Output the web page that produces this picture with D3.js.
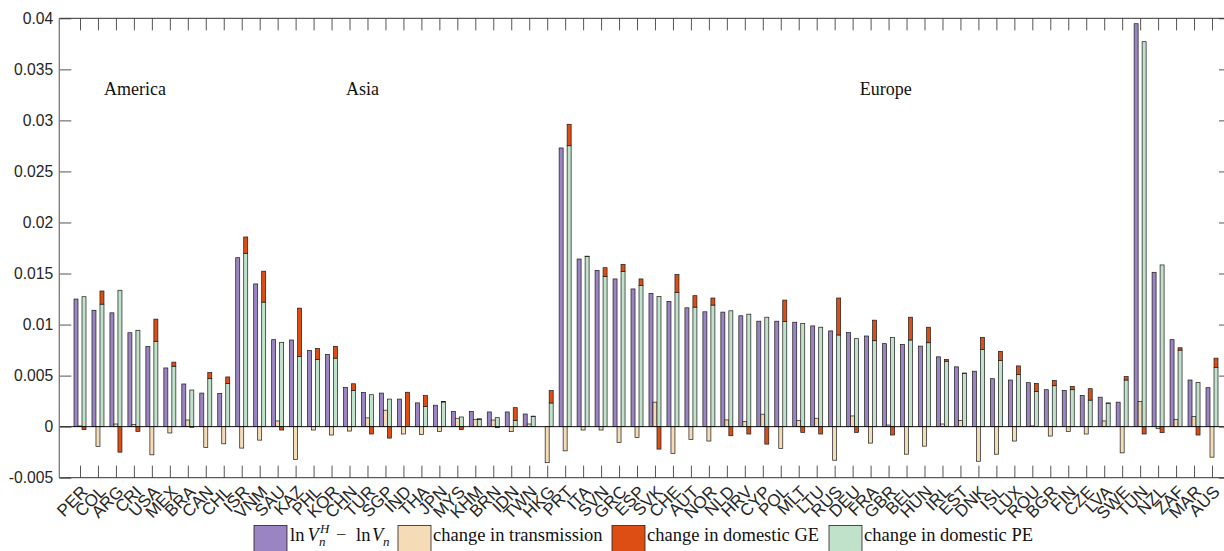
<!DOCTYPE html>
<html>
<head>
<meta charset="utf-8">
<script src="https://cdn.jsdelivr.net/npm/d3@7"></script>
<style>
  html, body { margin: 0; padding: 0; background: #fff; }
  svg { display: block; }
</style>
</head>
<body>
<svg id="chart" width="1224" height="551"></svg>
<script>
// Country codes along the horizontal axis
const countries = ["PER","COL","ARG","CRI","USA","MEX","BRA","CAN","CHL","ISR","VNM","SAU","KAZ","PHL","KOR","CHN","TUR","SGP","IND","THA","JPN","MYS","KHM","BRN","IDN","TWN","HKG","PRT","ITA","SVN","GRC","ESP","SVK","CHE","AUT","NOR","NLD","HRV","CYP","POL","MLT","LTU","RUS","DEU","FRA","GBR","BEL","HUN","IRL","EST","DNK","ISL","LUX","ROU","BGR","FIN","CZE","LVA","SWE","TUN","NZL","ZAF","MAR","AUS"];

// ln V^H_n - ln V_n
const totalChange = [0.0125,0.0114,0.01115,0.0092,0.00785,0.00575,0.00418,0.00329,0.00326,0.01655,0.01398,0.00852,0.00849,0.00747,0.00707,0.00385,0.00336,0.00329,0.0027,0.00233,0.0021,0.0015,0.0015,0.00144,0.00144,0.00124,0.0,0.0273,0.01642,0.0153,0.01447,0.01349,0.01306,0.01227,0.01164,0.01125,0.01122,0.01086,0.01033,0.01033,0.01023,0.00987,0.00938,0.00921,0.00888,0.00813,0.00806,0.00789,0.00684,0.00586,0.00543,0.0047,0.00457,0.00431,0.00362,0.00355,0.00306,0.00289,0.0024,0.03947,0.01512,0.00852,0.00457,0.00382];

// change in transmission
const transmission = [0.00007,-0.00194,0.00026,0.0002,-0.00276,-0.00062,0.00065,-0.00204,-0.00168,-0.0021,-0.00132,0.00056,-0.00322,-0.00033,-0.00082,-0.00043,0.00086,0.00161,-0.00072,-0.00078,-0.00046,0.00082,0.00072,0.00065,-0.00049,0.00026,-0.00353,-0.00237,-0.00033,-0.00033,-0.00155,-0.00105,0.0024,-0.00263,-0.00125,-0.00141,0.00066,0.00049,0.00122,-0.00214,0.00062,0.00082,-0.00329,0.00105,-0.00161,0.00016,-0.0027,-0.00191,0.00026,0.00059,-0.00339,-0.0027,-0.00141,0.00007,-0.00092,-0.00046,-0.00072,0.00056,-0.00257,0.00248,-0.0002,0.00072,0.00101,-0.00299];

// change in domestic PE
const domesticPE = [0.01273,0.012,0.01336,0.00944,0.00836,0.00592,0.00359,0.0047,0.00424,0.01698,0.0122,0.00826,0.00688,0.00658,0.00671,0.00355,0.00313,0.0027,0.0,0.00196,0.00242,0.00095,0.00072,0.00088,0.00062,0.00101,0.00232,0.02752,0.01668,0.01472,0.0152,0.01382,0.01276,0.01313,0.01171,0.01191,0.01135,0.01102,0.01072,0.0103,0.0101,0.00974,0.00898,0.00862,0.00842,0.00875,0.00849,0.00822,0.00641,0.00523,0.00757,0.00648,0.0051,0.00345,0.00401,0.00362,0.0026,0.0023,0.00457,0.03771,0.01584,0.0075,0.00434,0.00579];

// change in domestic GE
const domesticGE = [-0.00029,0.00129,-0.0025,-0.00046,0.00217,0.0004,-0.00006,0.0006,0.00063,0.0016,0.00303,-0.00033,0.00473,0.00108,0.00115,0.00065,-0.00072,-0.00112,0.00337,0.00108,0.00003,-0.00029,0.00005,-0.0001,0.00124,0.00002,0.00121,0.0021,0.00002,0.00085,0.0007,0.00065,-0.0022,0.00177,0.00112,0.00069,-0.00089,-0.00072,-0.00171,0.0021,-0.00056,-0.00072,0.00362,-0.00056,0.00201,-0.00082,0.00223,0.00152,0.00017,0.00002,0.00118,0.00089,0.00085,0.00079,0.0005,0.00033,0.00112,0.00002,0.00033,-0.00072,-0.00059,0.00023,-0.00082,0.00092];

// Vertical axis ticks
const yTicks = [-0.005, 0, 0.005, 0.01, 0.015, 0.02, 0.025, 0.03, 0.035, 0.04];

// Region captions, placed in data coordinates (category position, value)
const regionNames = ["America", "Asia", "Europe"];
const regionPos = [2.34, 15.8, 44.4];
const regionLevel = [0.0325, 0.0325, 0.0325];

const colors = {
  total: "#9b84c2",
  trans: "#f5dcb6",
  ge: "#dc4e14",
  pe: "#c0e2ca"
};

const svg = d3.select("#chart");
const n = countries.length;
const idx = d3.range(1, n + 1);

const x = d3.scaleLinear().domain([1, n]).range([80, 1212]);
const y = d3.scaleLinear().domain([-0.005, 0.04]).range([477.7, 18.3]);
const step = x(2) - x(1);
const barW = step * 0.2226;
const frameL = x(1) - 1.152 * step;
const frameR = x(n) + 1.06 * step;

const data = countries.map((c, i) => ({
  i: i + 1, c,
  total: totalChange[i], trans: transmission[i], pe: domesticPE[i], ge: domesticGE[i]
}));

const stacked = d3.stack().keys(["pe", "ge"]).offset(d3.stackOffsetDiverging)(data);

const barStroke = "#1a1a1a", barSW = 0.7;
const bars = svg.append("g");

// total change (left bar in each group)
bars.selectAll("rect.total").data(data).join("rect")
  .attr("class", "total")
  .attr("x", d => x(d.i) - 1.5 * barW)
  .attr("width", barW)
  .attr("y", d => y(Math.max(0, d.total)))
  .attr("height", d => Math.abs(y(d.total) - y(0)))
  .attr("fill", colors.total).attr("stroke", barStroke).attr("stroke-width", barSW);

// transmission (middle bar)
bars.selectAll("rect.trans").data(data).join("rect")
  .attr("class", "trans")
  .attr("x", d => x(d.i) - 0.5 * barW)
  .attr("width", barW)
  .attr("y", d => y(Math.max(0, d.trans)))
  .attr("height", d => Math.abs(y(d.trans) - y(0)))
  .attr("fill", colors.trans).attr("stroke", barStroke).attr("stroke-width", barSW);

// domestic PE + GE stacked (right bar)
stacked.forEach(layer => {
  bars.append("g").selectAll("rect").data(layer).join("rect")
    .attr("x", d => x(d.data.i) + 0.5 * barW)
    .attr("width", barW)
    .attr("y", d => y(Math.max(d[0], d[1])))
    .attr("height", d => Math.abs(y(d[0]) - y(d[1])))
    .attr("fill", colors[layer.key]).attr("stroke", barStroke).attr("stroke-width", barSW);
});

// zero baseline
svg.append("line")
  .attr("x1", frameL).attr("x2", frameR)
  .attr("y1", y(0)).attr("y2", y(0))
  .attr("stroke", "#111").attr("stroke-width", 1);

// axes
const tickColor = "#262626";
const fontSans = "'Liberation Sans', Arial, Helvetica, sans-serif";

const yAxisL = svg.append("g").attr("transform", `translate(${frameL},0)`)
  .call(d3.axisLeft(y).tickValues(yTicks).tickSizeInner(-12).tickSizeOuter(0).tickPadding(6)
    .tickFormat(v => String(+v.toFixed(3))));
const yAxisR = svg.append("g").attr("transform", `translate(${frameR},0)`)
  .call(d3.axisRight(y).tickValues(yTicks).tickSizeInner(-12).tickSizeOuter(0).tickFormat(""));
const xAxisT = svg.append("g").attr("transform", `translate(0,${y(0.04)})`)
  .call(d3.axisTop(x).tickValues(idx).tickSizeInner(-12).tickSizeOuter(0).tickFormat(""));
const xAxisB = svg.append("g").attr("transform", `translate(0,${y(-0.005)})`)
  .call(d3.axisBottom(x).tickValues(idx).tickSizeInner(-12).tickSizeOuter(0)
    .tickFormat(i => countries[i - 1]));

[yAxisL, yAxisR, xAxisT, xAxisB].forEach(g => {
  g.select(".domain").remove();
  g.selectAll(".tick line").attr("stroke", "#555").attr("stroke-width", 1);
  g.selectAll("text").attr("fill", tickColor)
    .style("font-family", fontSans).style("font-size", "15.7px");
});

xAxisB.selectAll(".tick text")
  .style("font-size", "17px")
  .attr("y", 0).attr("dy", "0.35em")
  .attr("text-anchor", "end")
  .attr("transform", "translate(4,11) rotate(-45)");

// frame lines
const frame = svg.append("g").attr("stroke-width", 1).attr("fill", "none");
frame.append("line").attr("x1", frameL).attr("x2", frameR).attr("y1", y(0.04)).attr("y2", y(0.04)).attr("stroke", "#333");
frame.append("line").attr("x1", frameL).attr("x2", frameR).attr("y1", y(-0.005)).attr("y2", y(-0.005)).attr("stroke", "#333");
frame.append("line").attr("x1", frameL).attr("x2", frameL).attr("y1", y(0.04)).attr("y2", y(-0.005)).attr("stroke", "#777").attr("stroke-width", 1.3);
frame.append("line").attr("x1", frameR).attr("x2", frameR).attr("y1", y(0.04)).attr("y2", y(-0.005)).attr("stroke", "#333");

// region captions
const fontSerif = "'Liberation Serif', 'Times New Roman', serif";
svg.append("g").selectAll("text").data(regionNames).join("text")
  .attr("x", (d, i) => x(regionPos[i]))
  .attr("y", (d, i) => y(regionLevel[i]))
  .attr("fill", "#111")
  .style("font-family", fontSerif).style("font-size", "18px")
  .text(d => d);

// legend
const lg = svg.append("g").style("font-family", fontSerif).style("font-size", "18.5px").attr("fill", "#111");
const legendItems = [
  { key: "total", box: 254 },
  { key: "trans", box: 398, label: "change in transmission" },
  { key: "ge", box: 612, label: "change in domestic GE" },
  { key: "pe", box: 829, label: "change in domestic PE" }
];
legendItems.forEach(it => {
  lg.append("rect").attr("x", it.box).attr("y", 525.5).attr("width", 33).attr("height", 30)
    .attr("fill", colors[it.key]).attr("stroke", "#222").attr("stroke-width", 0.8);
  if (it.label) lg.append("text").attr("x", it.box + 35).attr("y", 541).text(it.label);
});
// ln V_n^H - ln V_n
const mathY = 541;
lg.append("text").attr("x", 290).attr("y", mathY).text("ln");
lg.append("text").attr("x", 307.5).attr("y", mathY).style("font-style", "italic").text("V");
lg.append("text").attr("x", 320).attr("y", mathY - 8).style("font-style", "italic").style("font-size", "13px").text("H");
lg.append("text").attr("x", 319).attr("y", mathY + 5).style("font-style", "italic").style("font-size", "13px").text("n");
lg.append("text").attr("x", 336).attr("y", mathY).text("\u2212");
lg.append("text").attr("x", 356).attr("y", mathY).text("ln");
lg.append("text").attr("x", 372).attr("y", mathY).style("font-style", "italic").text("V");
lg.append("text").attr("x", 383).attr("y", mathY + 5).style("font-style", "italic").style("font-size", "13px").text("n");
</script>
</body>
</html>
